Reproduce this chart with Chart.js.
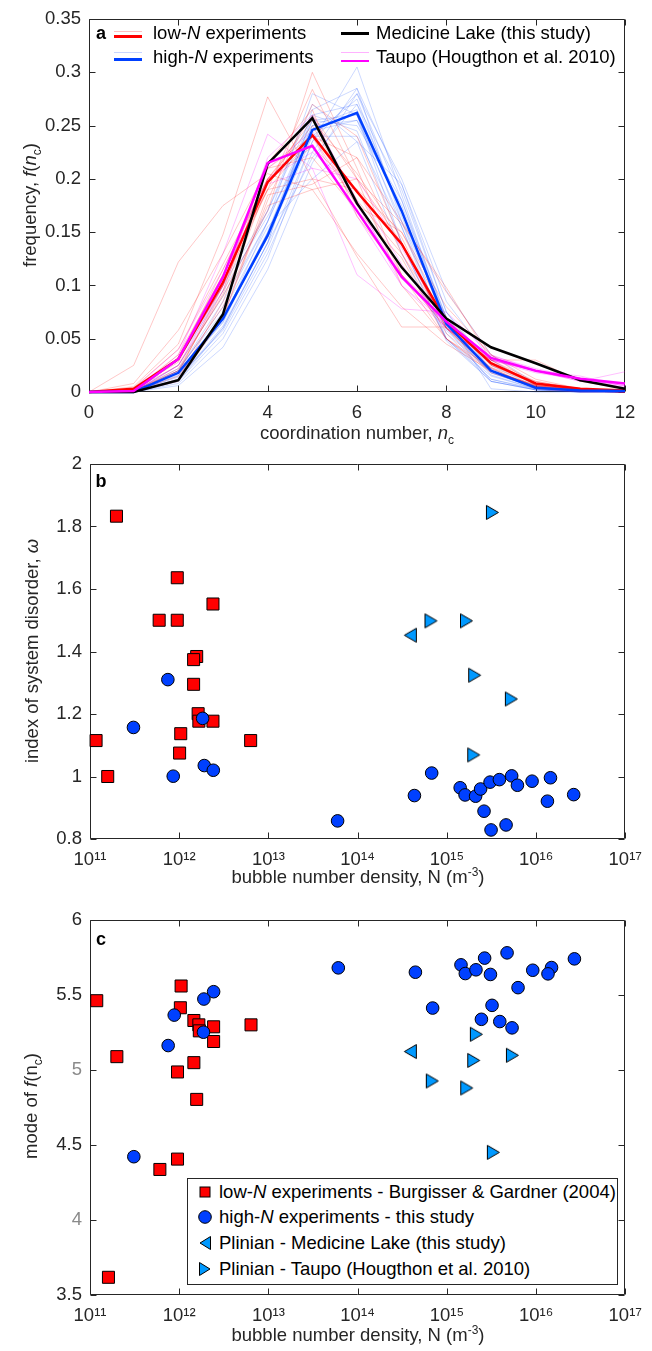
<!DOCTYPE html>
<html>
<head>
<meta charset="utf-8">
<script src="https://cdn.jsdelivr.net/npm/chart.js@4.4.1/dist/chart.umd.min.js"></script>
<style>
html,body{margin:0;padding:0;background:#fff;}
#wrap{position:relative;width:652px;height:1351px;overflow:hidden;font-family:"Liberation Sans",Arial,Helvetica,sans-serif;color:#262626;}
#wrap canvas{position:absolute;left:0;}
.t{position:absolute;font-size:18.5px;line-height:18px;white-space:nowrap;transform:translate(-50%,-50%);}
.yt{transform:translate(-50%,-50%) rotate(-90deg);}
.l{position:absolute;font-size:18.5px;line-height:18px;white-space:nowrap;transform:translateY(-50%);color:#000;}
.pl{position:absolute;font-size:18px;line-height:18px;font-weight:bold;transform:translate(-50%,-50%);color:#000;}
.ln{position:absolute;}
sub{font-size:12px;vertical-align:baseline;position:relative;top:5px;}
sup{font-size:12px;vertical-align:baseline;position:relative;top:-7px;}
#legc{position:absolute;left:187px;top:1178px;width:429px;height:105px;border:1px solid #262626;background:#fff;}
.mk{position:absolute;transform:translate(-50%,-50%);}
</style>
</head>
<body>
<div id="wrap">
<canvas id="ca" width="652" height="440" style="top:0;width:652px;height:440px"></canvas>
<canvas id="cb" width="652" height="440" style="top:440px;width:652px;height:440px"></canvas>
<canvas id="cc" width="652" height="471" style="top:880px;width:652px;height:471px"></canvas>

<!-- panel a overlays -->
<div class="pl" style="left:101px;top:33px">a</div>
<div class="ln" style="left:114px;top:30.5px;width:28px;height:1px;background:rgba(255,0,0,0.25)"></div>
<div class="ln" style="left:114px;top:35px;width:28px;height:2.5px;background:#ff0000"></div>
<div class="ln" style="left:114px;top:52px;width:28px;height:1px;background:rgba(0,64,255,0.22)"></div>
<div class="ln" style="left:114px;top:58px;width:28px;height:2.5px;background:#0040ff"></div>
<div class="ln" style="left:341px;top:32px;width:28px;height:2.5px;background:#000"></div>
<div class="ln" style="left:341px;top:52px;width:28px;height:1px;background:rgba(255,0,255,0.3)"></div>
<div class="ln" style="left:341px;top:59.5px;width:28px;height:2.5px;background:#ff00ff"></div>
<div class="l" style="left:153px;top:33px">low-<i>N</i> experiments</div>
<div class="l" style="left:153px;top:57px">high-<i>N</i> experiments</div>
<div class="l" style="left:376px;top:33px">Medicine Lake (this study)</div>
<div class="l" style="left:376px;top:57px">Taupo (Hougthon et al. 2010)</div>
<div class="t" style="left:357px;top:434px">coordination number, <i>n</i><sub>c</sub></div>
<div class="t yt" style="left:31px;top:205px">frequency, <i>f</i>(<i>n</i><sub>c</sub>)</div>

<!-- panel b overlays -->
<div class="pl" style="left:101px;top:481px">b</div>
<div class="t" style="left:358px;top:878px">bubble number density, N (m<sup>-3</sup>)</div>
<div class="t yt" style="left:32px;top:651px">index of system disorder, <i>ω</i></div>

<!-- panel c overlays -->
<div class="pl" style="left:101px;top:939px">c</div>
<div class="t" style="left:358px;top:1336px">bubble number density, N (m<sup>-3</sup>)</div>
<div class="t yt" style="left:32px;top:1106px">mode of <i>f</i>(n<sub>c</sub>)</div>
<div id="legc"></div>
<svg class="mk" style="left:205px;top:1192px" width="12" height="12"><rect x="1" y="1" width="10" height="10" fill="#ff0000" stroke="#000" stroke-width="1"/></svg>
<svg class="mk" style="left:205px;top:1217px" width="15" height="15"><circle cx="7.5" cy="7.5" r="6.3" fill="#0040ff" stroke="#000" stroke-width="1"/></svg>
<svg class="mk" style="left:205px;top:1243px" width="13" height="16"><polygon points="12,1.5 1.5,8 12,14.5" fill="#0099ff" stroke="#000" stroke-width="1"/></svg>
<svg class="mk" style="left:205px;top:1269px" width="13" height="16"><polygon points="1,1.5 11.5,8 1,14.5" fill="#0099ff" stroke="#000" stroke-width="1"/></svg>
<div class="l" style="left:219px;top:1192px">low-<i>N</i> experiments - Burgisser &amp; Gardner (2004)</div>
<div class="l" style="left:219px;top:1217px">high-<i>N</i> experiments - this study</div>
<div class="l" style="left:219px;top:1243px">Plinian - Medicine Lake (this study)</div>
<div class="l" style="left:219px;top:1269px">Plinian - Taupo (Hougthon et al. 2010)</div>
</div>

<script>
// ---------------- Panel a data ----------------
const nc = [0,1,2,3,4,5,6,7,8,9,10,11,12];
const xTicksA = [0,2,4,6,8,10,12];
const yTicksA = [0,0.05,0.1,0.15,0.2,0.25,0.3,0.35];

const lowN_mean     = [0,0.003,0.031,0.103,0.197,0.241,0.188,0.139,0.066,0.027,0.008,0.003,0.0015];
const highN_mean    = [0,0,0.018,0.069,0.147,0.246,0.262,0.170,0.064,0.020,0.004,0.0015,0.001];
const medicineLake  = [0,0,0.011,0.073,0.214,0.257,0.177,0.117,0.069,0.042,0.027,0.011,0.003];
const taupo_mean    = [0,0.001,0.031,0.108,0.215,0.231,0.170,0.108,0.066,0.032,0.020,0.0125,0.008];

const lowN_runs = [
  [0,0.025,0.122,0.175,0.205,0.190,0.130,0.080,0.045,0.020,0.006,0.002,0],
  [0,0.005,0.045,0.148,0.277,0.200,0.127,0.061,0.061,0.023,0.008,0.003,0.001],
  [0,0.002,0.025,0.090,0.170,0.300,0.210,0.110,0.050,0.020,0.006,0.002,0],
  [0,0.003,0.030,0.100,0.190,0.284,0.200,0.100,0.050,0.018,0.005,0.001,0],
  [0,0.001,0.020,0.080,0.175,0.190,0.200,0.158,0.098,0.030,0.030,0.010,0.003],
  [0,0,0.015,0.070,0.185,0.195,0.220,0.160,0.094,0.035,0.012,0.003,0.001],
  [0,0.008,0.058,0.130,0.210,0.220,0.170,0.126,0.050,0.023,0.003,0,0],
  [0,0.002,0.030,0.115,0.200,0.250,0.180,0.130,0.065,0.025,0.008,0.002,0.001],
  [0,0,0.010,0.070,0.180,0.270,0.240,0.140,0.060,0.020,0.005,0.001,0],
  [0,0.004,0.040,0.120,0.200,0.230,0.190,0.110,0.070,0.025,0.010,0.002,0],
  [0,0,0.012,0.085,0.195,0.260,0.200,0.140,0.060,0.030,0.010,0.003,0.001],
  [0,0.001,0.020,0.095,0.210,0.240,0.175,0.150,0.070,0.030,0.007,0.002,0],
  [0,0.002,0.035,0.110,0.190,0.200,0.190,0.150,0.080,0.035,0.006,0.002,0],
  [0,0,0.018,0.100,0.215,0.265,0.165,0.110,0.060,0.020,0.007,0.002,0.001],
  [0,0.003,0.028,0.105,0.190,0.240,0.220,0.130,0.055,0.020,0.006,0.002,0],
  [0,0.001,0.022,0.092,0.200,0.255,0.205,0.145,0.060,0.022,0.005,0.001,0]
];
const highN_runs = [
  [0,0,0.008,0.050,0.125,0.235,0.305,0.185,0.065,0.020,0.004,0.001,0],
  [0,0,0.012,0.060,0.140,0.265,0.285,0.160,0.055,0.012,0.003,0,0],
  [0,0,0.020,0.080,0.160,0.280,0.260,0.140,0.048,0.010,0.002,0,0],
  [0,0,0.010,0.055,0.130,0.225,0.285,0.195,0.075,0.020,0.004,0.001,0],
  [0,0,0.025,0.090,0.170,0.260,0.245,0.140,0.050,0.015,0.003,0.001,0],
  [0,0,0.006,0.042,0.115,0.215,0.280,0.200,0.095,0.035,0.008,0.002,0],
  [0,0,0.018,0.070,0.150,0.250,0.265,0.170,0.060,0.018,0.004,0.001,0],
  [0,0,0.030,0.095,0.165,0.240,0.240,0.155,0.058,0.018,0.004,0,0],
  [0,0,0.010,0.060,0.140,0.260,0.270,0.170,0.060,0.010,0.002,0,0],
  [0,0,0.020,0.065,0.150,0.255,0.250,0.180,0.062,0.016,0.003,0.001,0],
  [0,0,0.014,0.058,0.135,0.235,0.280,0.180,0.070,0.020,0.005,0.002,0],
  [0,0,0.022,0.075,0.155,0.200,0.235,0.195,0.085,0.030,0.006,0.001,0],
  [0,0,0.016,0.068,0.145,0.245,0.255,0.175,0.070,0.022,0.004,0.001,0],
  [0,0,0.030,0.100,0.170,0.270,0.235,0.130,0.050,0.012,0.002,0,0],
  [0,0,0.012,0.062,0.140,0.220,0.270,0.190,0.075,0.025,0.005,0.001,0],
  [0,0,0.015,0.066,0.160,0.250,0.255,0.160,0.070,0.003,0,0,0],
  [0,0,0.020,0.085,0.160,0.255,0.260,0.155,0.050,0.010,0.002,0,0],
  [0,0,0.018,0.072,0.145,0.240,0.275,0.165,0.065,0.020,0.005,0.001,0]
];
const taupo_samples = [
  [0,0,0.035,0.130,0.242,0.210,0.110,0.078,0.075,0.035,0.020,0.010,0.019],
  [0,0,0.030,0.100,0.220,0.260,0.180,0.100,0.060,0.030,0.020,0.015,0.005],
  [0,0.003,0.040,0.115,0.200,0.225,0.190,0.120,0.060,0.030,0.018,0.012,0.006],
  [0,0,0.025,0.095,0.210,0.245,0.175,0.110,0.060,0.030,0.020,0.010,0.008],
  [0,0.001,0.030,0.110,0.195,0.210,0.200,0.135,0.065,0.034,0.022,0.013,0.004],
  [0,0,0.025,0.100,0.200,0.240,0.165,0.100,0.065,0.030,0.020,0.012,0.006]
];

// ---------------- Panels b & c data ----------------
const decadeExps = [11,12,13,14,15,16,17];
const yTicksB = [0.8,1,1.2,1.4,1.6,1.8,2];
const yTicksC = [3.5,4,4.5,5,5.5,6];

// panel b: index of system disorder
const lowN_b_N     = [1.98e11,9.51e11,2.39e12,5.96e11,9.51e11,1.57e12,1.45e12,1.45e12,1.63e12,1.66e12,2.39e12,1.04e12,1.01e12,1.17e11,1.58e11,6.32e12];
const lowN_b_omega = [1.833,1.636,1.552,1.500,1.500,1.384,1.374,1.295,1.201,1.177,1.177,1.137,1.075,1.115,1.000,1.115];
const highN_b_N     = [7.46e11,3.07e11,1.83e12,8.57e11,1.91e12,2.41e12,5.96e13,
                       6.76e14,4.33e14,1.41e15,1.60e15,2.10e15,2.39e15,3.05e15,3.88e15,5.33e15,6.18e15,9.02e15,1.45e16,1.34e16,2.64e16,2.61e15,3.13e15,4.61e15];
const highN_b_omega = [1.310,1.157,1.186,1.001,1.035,1.020,0.858,
                       1.011,0.939,0.964,0.941,0.937,0.960,0.982,0.990,1.002,0.972,0.985,0.996,0.921,0.942,0.889,0.829,0.845];
const medLake_b_N     = [3.90e14];
const medLake_b_omega = [1.452];
const taupo_b_N     = [3.24e15,6.64e14,1.66e15,2.05e15,5.28e15,2.00e15];
const taupo_b_omega = [1.845,1.498,1.498,1.324,1.248,1.069];

// panel c: mode of f(nc)
const lowN_c_N    = [1.19e11,2.00e11,1.05e12,1.03e12,1.46e12,1.66e12,1.68e12,2.43e12,2.43e12,6.38e12,1.46e12,9.57e11,1.57e12,9.57e11,6.07e11,1.61e11];
const lowN_c_mode = [5.462,5.089,5.560,5.415,5.330,5.301,5.261,5.288,5.190,5.301,5.049,4.987,4.804,4.406,4.337,3.618];
const highN_c_N    = [6.07e13,2.43e12,1.89e12,8.79e11,7.52e11,1.87e12,3.10e11,
                      4.44e14,1.44e15,1.61e15,2.12e15,2.65e15,3.08e15,4.73e15,9.18e15,1.49e16,1.36e16,2.69e16,6.28e15,6.93e14,3.21e15,2.44e15,3.92e15,5.38e15];
const highN_c_mode = [5.681,5.522,5.473,5.366,5.163,5.252,4.422,
                      5.652,5.701,5.643,5.668,5.746,5.637,5.781,5.665,5.683,5.641,5.741,5.549,5.413,5.431,5.338,5.323,5.281];
const medLake_c_N    = [3.90e14];
const medLake_c_mode = [5.123];
const taupo_c_N    = [2.14e15,2.00e15,5.43e15,6.87e14,1.67e15,3.32e15];
const taupo_c_mode = [5.238,5.064,5.098,4.927,4.880,4.451];

// ---------------- helpers ----------------
const AX = '#262626';
Chart.defaults.font.family = '"Liberation Sans", Arial, Helvetica, sans-serif';
Chart.defaults.font.size = 18.5;
Chart.defaults.color = AX;

const toXY = (xs, ys) => xs.map((x, i) => ({x: x, y: ys[i]}));
const SUP = {'0':'⁰','1':'¹','2':'²','3':'³','4':'⁴','5':'⁵','6':'⁶','7':'⁷','8':'⁸','9':'⁹','-':'⁻'};
const supStr = s => String(s).split('').map(c => SUP[c] || c).join('');

const boxPlugin = {
  id: 'mbox',
  beforeDatasetsDraw(chart) {
    const {ctx, chartArea: a, scales} = chart;
    const xs = scales.x, ys = scales.y;
    const L = Math.round(a.left) + 0.5, R = Math.round(a.right) - 0.5;
    const T = Math.round(a.top) + 0.5, B = Math.round(a.bottom) - 0.5;
    const tl = 6;
    ctx.save();
    ctx.strokeStyle = AX; ctx.lineWidth = 1;
    ctx.beginPath();
    ctx.rect(L, T, R - L, B - T);
    xs.ticks.forEach(t => {
      const p = Math.round(xs.getPixelForValue(t.value)) + 0.5;
      ctx.moveTo(p, B); ctx.lineTo(p, B - tl);
      ctx.moveTo(p, T); ctx.lineTo(p, T + tl);
    });
    ys.ticks.forEach(t => {
      const p = Math.round(ys.getPixelForValue(t.value)) + 0.5;
      ctx.moveTo(L, p); ctx.lineTo(L + tl, p);
      ctx.moveTo(R, p); ctx.lineTo(R - tl, p);
    });
    ctx.stroke();
    ctx.restore();
  }
};

const baseOpts = (pad) => ({
  responsive: false, animation: false, devicePixelRatio: 1, events: [],
  layout: {padding: pad},
  plugins: {legend: {display: false}, tooltip: {enabled: false}}
});
const noGrid = {display: false, drawTicks: false};

// ---------------- Panel a ----------------
const lineDs = (vals, color, width, order) => ({
  data: toXY(nc, vals), borderColor: color, backgroundColor: color, borderWidth: width,
  pointRadius: 0, tension: 0, fill: false, order: order, clip: 3
});
const dsA = [];
lowN_runs.forEach(r => dsA.push(lineDs(r, 'rgba(255,0,0,0.22)', 1, 20)));
highN_runs.forEach(r => dsA.push(lineDs(r, 'rgba(0,64,255,0.2)', 1, 20)));
taupo_samples.forEach(r => dsA.push(lineDs(r, 'rgba(255,0,255,0.25)', 1, 20)));
dsA.push(lineDs(lowN_mean, '#ff0000', 2.5, 4));
dsA.push(lineDs(highN_mean, '#0040ff', 2.5, 3));
dsA.push(lineDs(medicineLake, '#000000', 2.5, 2));
dsA.push(lineDs(taupo_mean, '#ff00ff', 2.5, 1));

new Chart(document.getElementById('ca'), {
  type: 'line',
  data: {datasets: dsA},
  options: Object.assign(baseOpts({top: 17, right: 27, left: 0, bottom: 0}), {
    scales: {
      x: {type: 'linear', min: 0, max: 12, grid: noGrid, border: {display: false},
          afterBuildTicks: s => { s.ticks = xTicksA.map(v => ({value: v})); },
          ticks: {padding: 10, maxRotation: 0, autoSkip: false, callback: v => String(v)},
          afterFit: s => { s.height = 48; }},
      y: {type: 'linear', min: 0, max: 0.35, grid: noGrid, border: {display: false},
          afterBuildTicks: s => { s.ticks = yTicksA.map(v => ({value: v})); },
          ticks: {padding: 8, autoSkip: false, callback: v => String(+v.toFixed(2))},
          afterFit: s => { s.width = 89; }}
    }
  }),
  plugins: [boxPlugin]
});

// ---------------- scatter helpers ----------------
function triCanvas(dir) {
  const c = document.createElement('canvas');
  c.width = 15; c.height = 17;
  const g = c.getContext('2d');
  g.beginPath();
  if (dir > 0) { g.moveTo(1.5, 1.5); g.lineTo(13.5, 8.5); g.lineTo(1.5, 15.5); }
  else { g.moveTo(13.5, 1.5); g.lineTo(1.5, 8.5); g.lineTo(13.5, 15.5); }
  g.closePath();
  g.fillStyle = '#0099ff'; g.fill();
  g.lineWidth = 1; g.strokeStyle = '#000'; g.stroke();
  return c;
}
const triR = triCanvas(1), triL = triCanvas(-1);

const sqDs = (xs, ys) => ({data: toXY(xs, ys), pointStyle: 'rect', pointRadius: 8.5, backgroundColor: '#ff0000', borderColor: '#000', borderWidth: 1, order: 3, clip: false});
const ciDs = (xs, ys) => ({data: toXY(xs, ys), pointStyle: 'circle', pointRadius: 6.3, backgroundColor: '#0040ff', borderColor: '#000', borderWidth: 1, order: 2, clip: false});
const trDs = (xs, ys, img, ord) => ({data: toXY(xs, ys), pointStyle: img, pointRadius: 7, backgroundColor: '#0099ff', borderColor: '#000', borderWidth: 1, order: ord, clip: false});

const logX = (h) => ({
  type: 'logarithmic', min: 1e11, max: 1e17, grid: noGrid, border: {display: false},
  afterBuildTicks: s => { s.ticks = decadeExps.map(e => ({value: Math.pow(10, e)})); },
  ticks: {padding: 10, maxRotation: 0, autoSkip: false,
          callback: v => '10' + supStr(Math.round(Math.log10(v)))},
  afterFit: s => { s.height = h; }
});

// ---------------- Panel b ----------------
new Chart(document.getElementById('cb'), {
  type: 'scatter',
  data: {datasets: [
    sqDs(lowN_b_N, lowN_b_omega),
    ciDs(highN_b_N, highN_b_omega),
    trDs(medLake_b_N, medLake_b_omega, triL, 1),
    trDs(taupo_b_N, taupo_b_omega, triR, 0)
  ]},
  options: Object.assign(baseOpts({top: 24, right: 26, left: 0, bottom: 0}), {
    scales: {
      x: logX(41),
      y: {type: 'linear', min: 0.8, max: 2, grid: noGrid, border: {display: false},
          afterBuildTicks: s => { s.ticks = yTicksB.map(v => ({value: v})); },
          ticks: {padding: 8, autoSkip: false, callback: v => String(+v.toFixed(1))},
          afterFit: s => { s.width = 90; }}
    }
  }),
  plugins: [boxPlugin]
});

// ---------------- Panel c ----------------
new Chart(document.getElementById('cc'), {
  type: 'scatter',
  data: {datasets: [
    sqDs(lowN_c_N, lowN_c_mode),
    ciDs(highN_c_N, highN_c_mode),
    trDs(medLake_c_N, medLake_c_mode, triL, 1),
    trDs(taupo_c_N, taupo_c_mode, triR, 0)
  ]},
  options: Object.assign(baseOpts({top: 40, right: 26, left: 0, bottom: 0}), {
    scales: {
      x: logX(56),
      y: {type: 'linear', min: 3.5, max: 6, grid: noGrid, border: {display: false},
          afterBuildTicks: s => { s.ticks = yTicksC.map(v => ({value: v})); },
          ticks: {padding: 8, autoSkip: false, callback: v => String(+v.toFixed(1)),
                  color: c => (c.tick && (c.tick.value === 5 || c.tick.value === 4)) ? '#8a8a8a' : AX},
          afterFit: s => { s.width = 90; }}
    }
  }),
  plugins: [boxPlugin]
});
</script>
</body>
</html>
